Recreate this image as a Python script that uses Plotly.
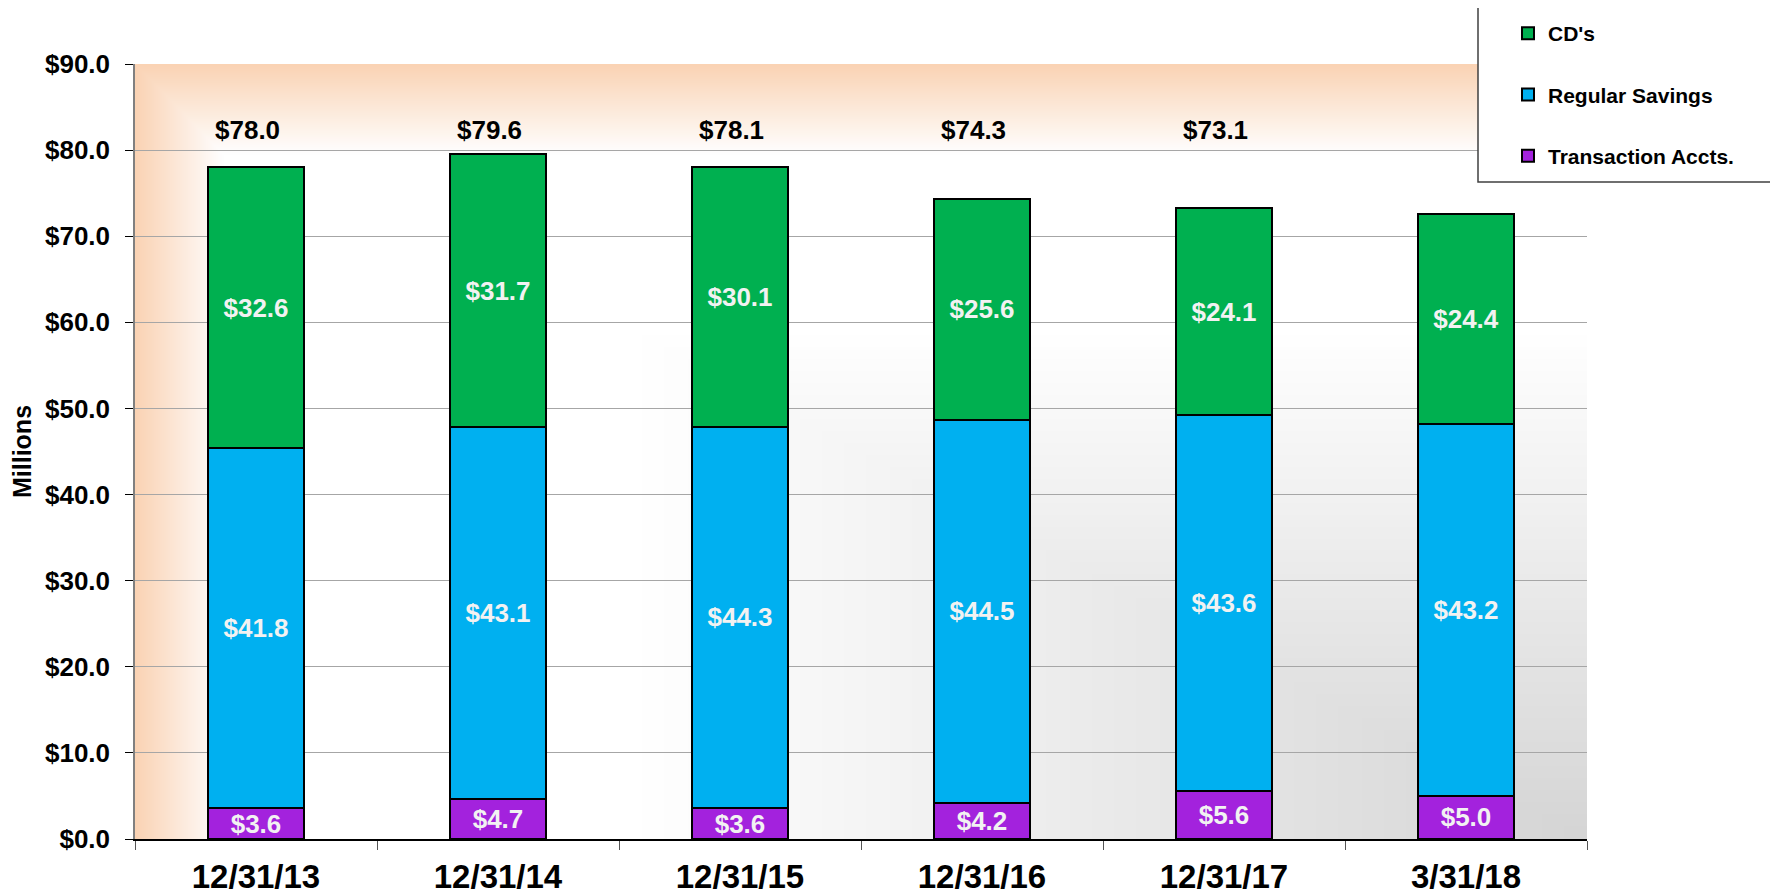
import base64
import struct
import zlib

import numpy as np
import plotly.graph_objects as go

# data
dates = ['12/31/13', '12/31/14', '12/31/15', '12/31/16', '12/31/17', '3/31/18']
transaction = [3.6, 4.7, 3.6, 4.2, 5.6, 5.0]
savings = [41.8, 43.1, 44.3, 44.5, 43.6, 43.2]
cds = [32.6, 31.7, 30.1, 25.6, 24.1, 24.4]
totals = [78.0, 79.6, 78.1, 74.3, 73.1, None]   # last column has no total label

FONT = 'Liberation Sans, Arial, sans-serif'
OFF = 8   # the page body adds an 8px margin, so draw everything 8px up/left
W, H = 1778 - OFF, 894 - OFF
PLOT_L, PLOT_R, PLOT_T, PLOT_B = 135 - OFF, 1587 - OFF, 64 - OFF, 839 - OFF


def png_uri(arr):
    h, w, _ = arr.shape
    raw = b''.join(b'\x00' + arr[i].tobytes() for i in range(h))

    def chunk(tag, data):
        c = struct.pack('>I', len(data)) + tag + data
        return c + struct.pack('>I', zlib.crc32(tag + data) & 0xffffffff)

    png = b'\x89PNG\r\n\x1a\n'
    png += chunk(b'IHDR', struct.pack('>IIBBBBB', w, h, 8, 2, 0, 0, 0))
    png += chunk(b'IDAT', zlib.compress(raw, 9))
    png += chunk(b'IEND', b'')
    return 'data:image/png;base64,' + base64.b64encode(png).decode()


def plot_background(w=726, h=388):
    # peach along the left/top edges, white middle, grey towards bottom right
    u = (np.arange(w) + 0.5) / w
    v = (np.arange(h) + 0.5) / h
    uu, vv = np.meshgrid(u, v)
    m = np.minimum(uu, vv)
    g = np.clip((m - 0.35) / 0.65, 0, 1)
    base = 255 - g[..., None] * 42
    t = np.clip(np.minimum(uu / 0.06, vv / 0.115), 0, 1)[..., None]
    peach = np.array([250, 211, 180], dtype=float)
    img = peach * (1 - t) + base * t
    return png_uri(np.clip(img, 0, 255).astype(np.uint8))


def add_series(fig, name, values, color, rank):
    fig.add_trace(go.Bar(
        x=dates,
        y=values,
        name=name,
        legendgroup=name,
        legendrank=rank,
        marker=dict(color=color, line=dict(color='black', width=2)),
        width=0.4,
        texttemplate='$%{y:.1f}',
        textposition='inside',
        insidetextanchor='middle',
        constraintext='none',
        textangle=0,
        textfont=dict(family=FONT, size=26, color='#F2F2F2', weight='bold'),
    ))


fig = go.Figure()
add_series(fig, 'Transaction Accts.', transaction, '#A322DD', 3)
add_series(fig, 'Regular Savings', savings, '#00B0F0', 2)
add_series(fig, "CD's", cds, '#00B050', 1)

for d, tot in zip(dates, totals):
    if tot is None:
        continue
    fig.add_annotation(
        x=d, y=82.3, text=f'${tot:.1f}', showarrow=False, xshift=-9,
        font=dict(family=FONT, size=26, color='black', weight='bold'),
    )

# legend frame
pw = PLOT_R - PLOT_L
ph = PLOT_B - PLOT_T
fig.add_shape(
    type='rect', xref='paper', yref='paper', layer='above',
    x0=(1478 - OFF - PLOT_L) / pw, x1=(1772 - OFF - PLOT_L) / pw,
    y0=(PLOT_B - (182 - OFF)) / ph, y1=(PLOT_B - (6 - OFF)) / ph,
    fillcolor='white', line=dict(color='#404040', width=1.5),
)

fig.add_layout_image(
    source=plot_background(), xref='paper', yref='paper',
    x=0, y=1, sizex=1, sizey=1, sizing='stretch', layer='below',
    xanchor='left', yanchor='top',
)

fig.update_layout(
    width=W, height=H,
    margin=dict(l=PLOT_L, r=W - PLOT_R, t=PLOT_T, b=H - PLOT_B, autoexpand=False),
    barmode='stack',
    paper_bgcolor='white',
    plot_bgcolor='rgba(0,0,0,0)',
    font=dict(family=FONT, color='black'),
    showlegend=True,
    legend=dict(
        xref='container', yref='container',
        x=(1508 - OFF) / W, y=1 - (13 - OFF) / H, xanchor='left', yanchor='top',
        traceorder='grouped', tracegroupgap=31,
        bgcolor='rgba(0,0,0,0)', borderwidth=0,
        font=dict(family=FONT, size=21, color='black', weight='bold'),
    ),
    xaxis=dict(
        showline=True, linecolor='black', linewidth=1.5,
        ticks='outside', tickson='boundaries', ticklen=9, tickcolor='#555555',
        tickfont=dict(family=FONT, size=33, color='black', weight='bold'),
        ticklabelstandoff=8,
        showgrid=False,
    ),
    yaxis=dict(
        range=[0, 90], dtick=10, tickprefix='$', tickformat='.1f',
        showline=True, linecolor='#808080', linewidth=1.5,
        ticks='outside', ticklen=8, tickcolor='black',
        tickfont=dict(family=FONT, size=26, color='black', weight='bold'),
        ticklabelstandoff=10,
        showgrid=True, gridcolor='#A6A6A6', gridwidth=1,
        zeroline=False,
        title=dict(text='Millions', standoff=10,
                   font=dict(family=FONT, size=25, color='black', weight='bold')),
    ),
)

fig.write_html('out.html')
